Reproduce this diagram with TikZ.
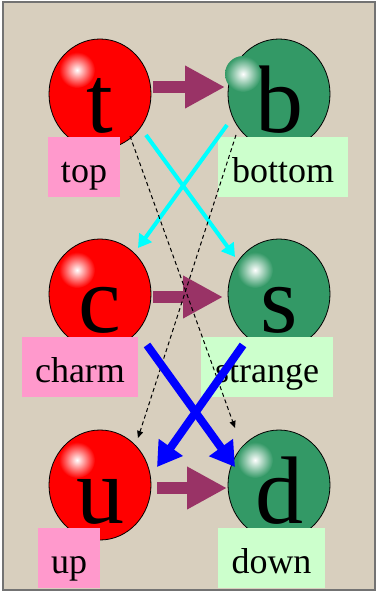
\documentclass[tikz,border=0pt]{standalone}
\usepackage{fontspec}
\setmainfont{Liberation Serif}
\usetikzlibrary{arrows.meta,shapes.geometric}

\definecolor{canvas}{HTML}{D8CFBE}
\definecolor{quarkred}{HTML}{FF0000}
\definecolor{quarkgreen}{HTML}{339966}
\definecolor{tagpink}{HTML}{FF99CC}
\definecolor{taggreen}{HTML}{CCFFCC}
\definecolor{plum}{HTML}{993366}
\definecolor{aqua}{HTML}{00FFFF}
\definecolor{deepblue}{HTML}{0000FF}

\tikzset{
    quark/.style={ellipse,draw=black,line width=0.8pt,inner sep=0pt,
        minimum width=102pt,minimum height=110pt,
        font=\fontsize{96}{96}\selectfont,text height=76pt,text depth=0pt},
    upquark/.style={quark,fill=quarkred},
    downquark/.style={quark,fill=quarkgreen},
    tag/.style={inner sep=0pt,minimum height=60pt,
        font=\fontsize{36}{36}\selectfont,text height=30pt,text depth=0pt},
    uptag/.style={tag,fill=tagpink},
    downtag/.style={tag,fill=taggreen},
    generation/.style={plum,line width=12pt,-{Triangle[length=40pt,width=40pt]}},
    cabibbo/.style={aqua,line width=4pt,-{Triangle[length=13pt,width=15pt]}},
    strong/.style={deepblue,line width=8pt,-{Triangle[length=24pt,width=28pt]}},
    faint/.style={black,line width=1pt,dash pattern=on 4pt off 3pt,
        -{Triangle[length=7pt,width=6pt]}}
}

\begin{document}
\begin{tikzpicture}[x=1pt,y=-1pt]
    \useasboundingbox (0,0) rectangle (379,594);
    \draw[fill=canvas,draw=black!55,line width=2.5pt] (3,2) rectangle (375,590);

    % the six quarks
    \node[upquark]   (t) at (100,94)  {t};
    \node[downquark] (b) at (279,94)  {b};
    \node[upquark]   (c) at (100,294) {c};
    \node[downquark] (s) at (279,294) {s};
    \node[upquark]   (u) at (100,485) {u};
    \node[downquark] (d) at (279,485) {d};

    \foreach \q/\col/\dx/\dy in {t/quarkred/-23/-24, b/quarkgreen/-36/-20,
                                 c/quarkred/-23/-24, s/quarkgreen/-24/-24,
                                 u/quarkred/-23/-25, d/quarkgreen/-24/-25}{
        \shade[inner color=white,outer color=\col]
            ([shift={(\dx,\dy)}]\q.center) circle (18);
    }

    % names
    \node[uptag,minimum width=72pt]    (ttag) at (84,167)    {top};
    \node[downtag,minimum width=130pt] (btag) at (283,167)   {bottom};
    \node[uptag,minimum width=116pt]   (ctag) at (80,367)    {charm};
    \node[downtag,minimum width=132pt] (stag) at (267,367)   {strange};
    \node[uptag,minimum width=62pt]    (utag) at (69,558)    {up};
    \node[downtag,minimum width=107pt] (dtag) at (271.5,558) {down};

    % transitions
    \draw[generation] ([shift={(53,-7)}]t.center) -- ([shift={(-54,-7)}]b.center);
    \draw[generation] ([shift={(53,3)}]c.center) -- ([shift={(-56,3)}]s.center);
    \draw[generation] ([shift={(57,3)}]u.center) -- ([shift={(-52,3)}]d.center);

    \draw[cabibbo] ([shift={(46,41)}]t.center) -- ([shift={(-44,-37)}]s.center);
    \draw[cabibbo] ([shift={(-52,31)}]b.center) -- ([shift={(38,-46)}]c.center);

    \draw[faint] ([shift={(30,42)}]t.center) -- ([shift={(-44,-57)}]d.center);
    \draw[faint] ([shift={(-43,41)}]b.center) -- ([shift={(38,-47)}]u.center);

    \draw[strong] ([shift={(47,51)}]c.center) -- ([shift={(-44,-18)}]d.center);
    \draw[strong] ([shift={(-36,51)}]s.center) -- ([shift={(57,-18)}]u.center);
\end{tikzpicture}
\end{document}
